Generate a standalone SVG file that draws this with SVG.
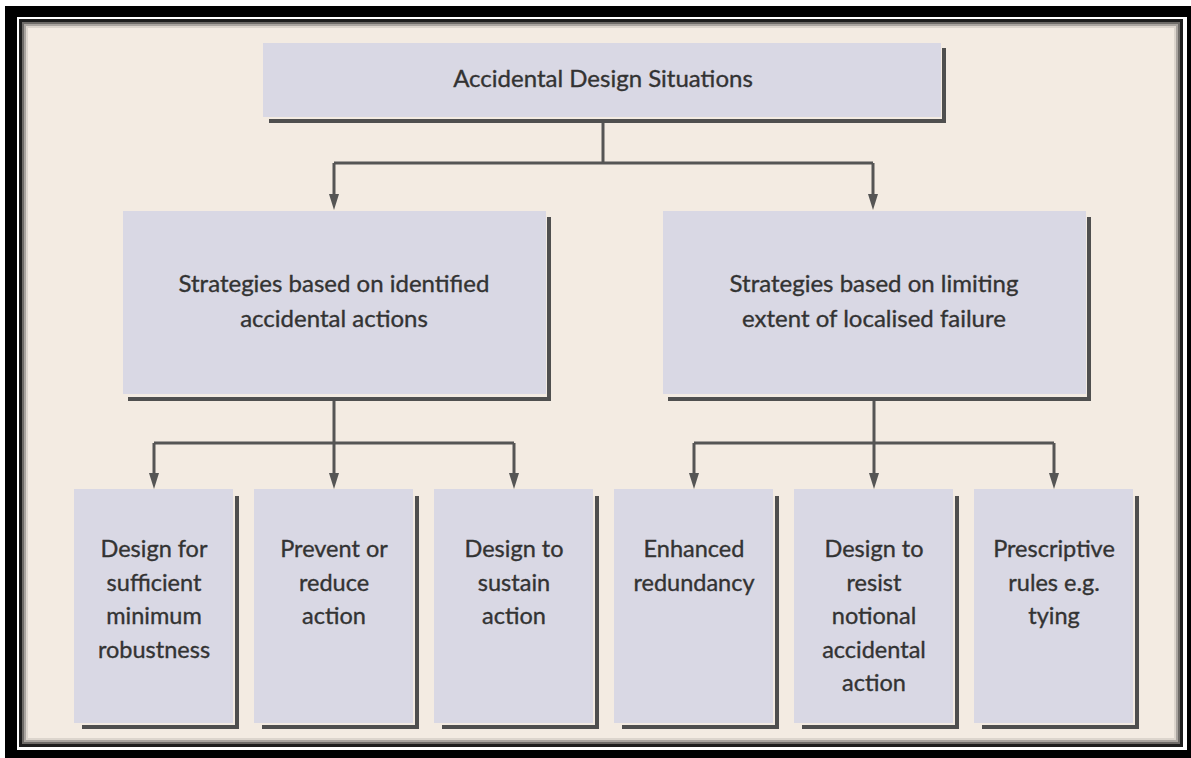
<svg xmlns="http://www.w3.org/2000/svg" width="1191" height="758" viewBox="0 0 1191 758">
<style>
.box{fill:#d9d8e4}
.sh{fill:none;stroke:#4f4f4f;stroke-width:4}
.t{font-family:Lato,"Open Sans","Liberation Sans",sans-serif;fill:#333333;stroke:#333333;stroke-width:0.35;text-anchor:middle}
.t1{font-size:24px}
.t2{font-size:24px}
.t3{font-size:23.5px}
.c{fill:none;stroke:#555555;stroke-width:3}
</style>
<defs>
<marker id="ar" viewBox="0 0 16 10" refX="2" refY="5" markerWidth="16" markerHeight="10" markerUnits="userSpaceOnUse" orient="auto">
<path d="M0,0 L16,5 L0,10 z" fill="#555555"/>
</marker>
</defs>
<g id="frame">
<rect x="5" y="6" width="1186" height="752" fill="#000"/>
<rect x="17" y="17" width="1170" height="733" fill="#fff"/>
<rect x="19" y="19" width="1164" height="728" fill="#1e1e1e"/>
<rect x="22" y="22" width="1158" height="722" fill="#f3ebe2"/>
<rect x="23" y="23" width="1156" height="720" fill="none" stroke="#6e6b68" stroke-width="2"/>
<rect x="25" y="25" width="1152" height="716" fill="none" stroke="#a9a49f" stroke-width="2"/>
<rect x="27" y="27" width="1148" height="712" fill="none" stroke="#dcd5cd" stroke-width="2"/>
</g>
<g id="connectors">
<polyline class="c" points="603,121 603,163"/>
<polyline class="c" points="334,163 873,163"/>
<polyline class="c" points="334,163 334,196" marker-end="url(#ar)"/>
<polyline class="c" points="873,163 873,196" marker-end="url(#ar)"/>
<polyline class="c" points="334,400 334,443"/>
<polyline class="c" points="154,443 514,443"/>
<polyline class="c" points="154,443 154,475" marker-end="url(#ar)"/>
<polyline class="c" points="334,443 334,475" marker-end="url(#ar)"/>
<polyline class="c" points="514,443 514,475" marker-end="url(#ar)"/>
<polyline class="c" points="874,400 874,443"/>
<polyline class="c" points="694,443 1054,443"/>
<polyline class="c" points="694,443 694,475" marker-end="url(#ar)"/>
<polyline class="c" points="874,443 874,475" marker-end="url(#ar)"/>
<polyline class="c" points="1054,443 1054,475" marker-end="url(#ar)"/>
</g>
<g id="n-top">
<rect class="box" x="263" y="43" width="678" height="74"/>
<polyline class="sh" points="944,48 944,121 269,121"/>
<text class="t t1" x="603" y="87">Accidental Design Situations</text>
</g>
<g id="n-identified">
<rect class="box" x="123" y="211" width="423" height="183"/>
<polyline class="sh" points="549,217 549,399 128,399"/>
<text class="t t2" x="334" y="292">Strategies based on identified</text>
<text class="t t2" x="334" y="327">accidental actions</text>
</g>
<g id="n-limiting">
<rect class="box" x="663" y="211" width="423" height="183"/>
<polyline class="sh" points="1089,217 1089,399 668,399"/>
<text class="t t2" x="874" y="292">Strategies based on limiting</text>
<text class="t t2" x="874" y="327">extent of localised failure</text>
</g>
<g id="n-robustness">
<rect class="box" x="74" y="489" width="159" height="234"/>
<polyline class="sh" points="237,496 237,727 82,727"/>
<text class="t t3" x="154" y="557">Design for</text>
<text class="t t3" x="154" y="590.5">sufficient</text>
<text class="t t3" x="154" y="624">minimum</text>
<text class="t t3" x="154" y="657.5">robustness</text>
</g>
<g id="n-prevent">
<rect class="box" x="254" y="489" width="159" height="234"/>
<polyline class="sh" points="417,496 417,727 262,727"/>
<text class="t t3" x="334" y="557">Prevent or</text>
<text class="t t3" x="334" y="590.5">reduce</text>
<text class="t t3" x="334" y="624">action</text>
</g>
<g id="n-sustain">
<rect class="box" x="434" y="489" width="159" height="234"/>
<polyline class="sh" points="597,496 597,727 442,727"/>
<text class="t t3" x="514" y="557">Design to</text>
<text class="t t3" x="514" y="590.5">sustain</text>
<text class="t t3" x="514" y="624">action</text>
</g>
<g id="n-redundancy">
<rect class="box" x="614" y="489" width="159" height="234"/>
<polyline class="sh" points="777,496 777,727 622,727"/>
<text class="t t3" x="694" y="557">Enhanced</text>
<text class="t t3" x="694" y="590.5">redundancy</text>
</g>
<g id="n-notional">
<rect class="box" x="794" y="489" width="159" height="234"/>
<polyline class="sh" points="957,496 957,727 802,727"/>
<text class="t t3" x="874" y="557">Design to</text>
<text class="t t3" x="874" y="590.5">resist</text>
<text class="t t3" x="874" y="624">notional</text>
<text class="t t3" x="874" y="657.5">accidental</text>
<text class="t t3" x="874" y="691">action</text>
</g>
<g id="n-prescriptive">
<rect class="box" x="974" y="489" width="159" height="234"/>
<polyline class="sh" points="1137,496 1137,727 982,727"/>
<text class="t t3" x="1054" y="557">Prescriptive</text>
<text class="t t3" x="1054" y="590.5">rules e.g.</text>
<text class="t t3" x="1054" y="624">tying</text>
</g>
</svg>
